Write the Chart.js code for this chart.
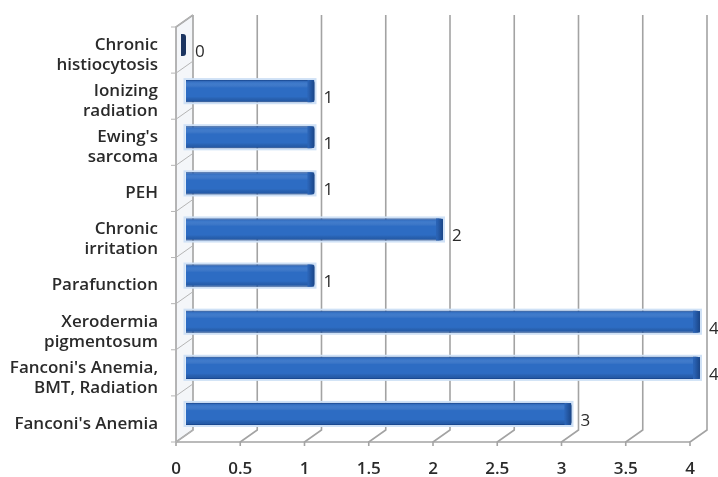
<!DOCTYPE html>
<html>
<head>
<meta charset="utf-8">
<script src="https://cdn.jsdelivr.net/npm/chart.js@4"></script>
<style>
  html, body { margin: 0; padding: 0; background: #ffffff; }
  #wrap { width: 718px; height: 477px; }
</style>
</head>
<body>
<div id="wrap"><canvas id="chart" width="718" height="477"></canvas></div>
<script>
// Risk factors, listed top to bottom
const categories = [
  ['Chronic', 'histiocytosis'],
  ['Ionizing', 'radiation'],
  ["Ewing's", 'sarcoma'],
  'PEH',
  ['Chronic', 'irritation'],
  'Parafunction',
  ['Xerodermia', 'pigmentosum'],
  ["Fanconi's Anemia,", 'BMT, Radiation'],
  "Fanconi's Anemia"
];
const cases = [0, 1, 1, 1, 2, 1, 4, 4, 3];
const axisMin = 0;
const axisMax = 4;
const axisStep = 0.5;

// depth of the pseudo-3D box: front plane sits down-left, back wall up-right
const FRONT = { dx: -10, dy: 5 };
const BACK = { dx: 7, dy: -7 };
const FONT = '"Open Sans", Lato, sans-serif';
const TEXT = '#2a2a2a';

const frame3d = {
  id: 'frame3d',
  beforeDatasetsDraw(chart) {
    const { ctx, chartArea: a, scales } = chart;
    const xs = scales.x;
    ctx.save();
    // side wall
    const wl = a.left + FRONT.dx, wr = a.left + BACK.dx;
    ctx.fillStyle = '#f4f6f9';
    ctx.beginPath();
    ctx.moveTo(wl, a.top + FRONT.dy);
    ctx.lineTo(wr, a.top + BACK.dy);
    ctx.lineTo(wr, a.bottom + BACK.dy);
    ctx.lineTo(wl, a.bottom + FRONT.dy);
    ctx.closePath();
    ctx.fill();

    ctx.strokeStyle = '#a3a3a3';
    ctx.lineWidth = 1.6;
    // back-wall gridlines and floor slants
    for (let v = axisMin; v <= axisMax + 1e-9; v += axisStep) {
      const x = xs.getPixelForValue(v);
      ctx.beginPath();
      ctx.moveTo(x + BACK.dx, a.top + BACK.dy);
      ctx.lineTo(x + BACK.dx, a.bottom + BACK.dy);
      ctx.lineTo(x + FRONT.dx, a.bottom + FRONT.dy);
      ctx.lineTo(x + FRONT.dx, a.bottom + FRONT.dy + 4);
      ctx.stroke();
    }
    // floor front edge
    ctx.beginPath();
    ctx.moveTo(xs.getPixelForValue(axisMin) + FRONT.dx, a.bottom + FRONT.dy);
    ctx.lineTo(xs.getPixelForValue(axisMax) + FRONT.dx, a.bottom + FRONT.dy);
    ctx.stroke();
    // side wall outline
    ctx.beginPath();
    ctx.moveTo(wl, a.bottom + FRONT.dy);
    ctx.lineTo(wl, a.top + FRONT.dy);
    ctx.lineTo(wr, a.top + BACK.dy);
    ctx.stroke();
    // category separators on the side wall
    ctx.lineWidth = 1;
    ctx.strokeStyle = '#b5b5b5';
    const n = categories.length;
    const band = (a.bottom - a.top) / n;
    for (let k = 0; k <= n; k++) {
      const y = a.top + k * band;
      ctx.beginPath();
      ctx.moveTo(wl - 5, y + FRONT.dy);
      ctx.lineTo(wl, y + FRONT.dy);
      ctx.lineTo(wr, y + BACK.dy);
      ctx.stroke();
    }
    // thin light halo round every bar
    const meta = chart.getDatasetMeta(0);
    ctx.strokeStyle = '#cfe1f6';
    ctx.lineWidth = 2;
    meta.data.forEach((bar) => {
      const h = bar.height;
      if (bar.x - bar.base < 1) return;
      ctx.strokeRect(bar.base - 1.5, bar.y - h / 2 - 1, bar.x - bar.base + 2.5, h + 2);
    });
    ctx.restore();
  },
  afterDatasetsDraw(chart) {
    const { ctx } = chart;
    const meta = chart.getDatasetMeta(0);
    ctx.save();
    meta.data.forEach((bar, i) => {
      const h = bar.height;
      const top = bar.y - h / 2;
      const w = bar.x - bar.base;
      if (w > 1) {
        // shading across the bar face
        const g = ctx.createLinearGradient(0, top, 0, top + h);
        g.addColorStop(0, 'rgba(20,60,130,0.45)');
        g.addColorStop(0.14, 'rgba(110,160,225,0.25)');
        g.addColorStop(0.35, 'rgba(255,255,255,0.0)');
        g.addColorStop(0.75, 'rgba(0,0,0,0.0)');
        g.addColorStop(1, 'rgba(10,40,100,0.3)');
        ctx.fillStyle = g;
        ctx.fillRect(bar.base, top, w - 4, h);
      }
      // rounded end cap
      const cg = ctx.createLinearGradient(bar.x - 6, 0, bar.x + 1, 0);
      cg.addColorStop(0, '#2a63b5');
      cg.addColorStop(1, '#17407f');
      ctx.fillStyle = w > 1 ? cg : '#1b3460';
      ctx.beginPath();
      const cw = w > 1 ? 7 : 5;
      ctx.roundRect(bar.x - cw, top, cw, h, [0, 3, 3, 0]);
      ctx.fill();
      // value label
      ctx.fillStyle = TEXT;
      ctx.font = '500 17px ' + FONT;
      ctx.textAlign = 'left';
      ctx.textBaseline = 'middle';
      ctx.fillText(String(cases[i]), bar.x + 9, bar.y + 7);
    });
    ctx.restore();
  }
};

new Chart(document.getElementById('chart'), {
  type: 'bar',
  data: {
    labels: categories,
    datasets: [{
      data: cases,
      backgroundColor: '#2d6cc3',
      borderColor: '#1f55a3',
      borderWidth: 1,
      borderSkipped: 'start',
      categoryPercentage: 1,
      barPercentage: 0.48
    }]
  },
  options: {
    indexAxis: 'y',
    responsive: false,
    animation: false,
    devicePixelRatio: 1,
    layout: { padding: { top: 22, right: 18, left: 0, bottom: 0 } },
    plugins: { legend: { display: false }, tooltip: { enabled: false } },
    scales: {
      x: {
        min: axisMin,
        max: axisMax,
        grid: { display: false, drawTicks: false },
        border: { display: false },
        ticks: {
          stepSize: axisStep,
          labelOffset: FRONT.dx,
          padding: 22,
          color: TEXT,
          font: { family: FONT, size: 17, weight: '600' },
          callback: (v) => String(v)
        },
        afterFit(scale) {
          scale.height = 40;
          scale.paddingLeft = 0;
          scale.paddingRight = 0;
        }
      },
      y: {
        grid: { display: false, drawTicks: false },
        border: { display: false },
        ticks: {
          labelOffset: FRONT.dy + 5,
          padding: 28,
          color: TEXT,
          autoSkip: false,
          font: { family: FONT, size: 17, weight: '600', lineHeight: 1.18 }
        },
        afterFit(scale) {
          scale.width = 186;
          scale.paddingTop = 0;
          scale.paddingBottom = 0;
        }
      }
    }
  },
  plugins: [frame3d]
});
</script>
</body>
</html>
